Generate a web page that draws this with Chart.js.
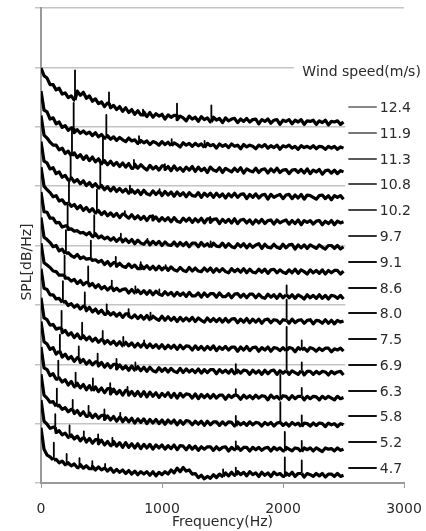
<!DOCTYPE html>
<html lang="ja">
<head>
<meta charset="UTF-8">
<title>SPL spectra</title>
<script src="https://cdn.jsdelivr.net/npm/chart.js"></script>
<style>
  body { margin: 0; background: #fff; }
  #box { width: 426px; height: 531px; }
</style>
</head>
<body>
<div id="box"><canvas id="grafico" width="426" height="531"></canvas></div>
<script>
// frequency grid (Hz)
const freq = [
  0,25,50,75,100,125,150,175,200,225,
  250,275,300,325,350,375,400,425,450,475,
  500,525,550,575,600,625,650,675,700,725,
  750,775,800,825,850,875,900,925,950,975,
  1000,1025,1050,1075,1100,1125,1150,1175,1200,1225,
  1250,1275,1300,1325,1350,1375,1400,1425,1450,1475,
  1500,1525,1550,1575,1600,1625,1650,1675,1700,1725,
  1750,1775,1800,1825,1850,1875,1900,1925,1950,1975,
  2000,2025,2050,2075,2100,2125,2150,2175,2200,2225,
  2250,2275,2300,2325,2350,2375,2400,2425,2450,2475,
  2500
]

const windSpeeds = ['12.4','11.9','11.3','10.8','10.2','9.7','9.1','8.6','8.0','7.5','6.9','6.3','5.8','5.2','4.7']

// waterfall offset of each spectrum (level at 2500 Hz)
const offsets = [60.6,56.4,52.4,48.1,43.8,39.7,35.5,31.3,27.1,22.4,18.5,14.3,9.8,5.6,1.3]

// spectra, relative to their offset
const spl124 = [9.3,8.0,7.6,6.5,6.5,5.6,5.9,4.9,5.1,4.3,4.6,
  3.9,5.4,4.7,5.2,4.2,4.6,3.7,4.1,3.3,3.6,
  2.8,3.4,2.6,3.0,2.3,2.8,2.0,2.6,1.8,2.3,
  1.5,2.1,1.4,1.9,1.1,1.8,1.0,1.6,1.2,1.5,
  0.7,1.4,1.0,1.3,0.6,1.2,0.9,0.4,1.2,0.7,
  1.0,0.3,1.1,0.6,0.9,0.2,1.0,0.5,0.8,0.1,
  0.9,0.4,0.7,0.8,0.1,0.7,0.3,0.8,0.2,0.6,
  0.7,-0.1,0.6,0.3,0.7,0.0,0.5,0.6,-0.2,0.5,
  0.3,0.6,-0.1,0.5,0.2,0.6,-0.2,0.4,0.3,0.5,
  -0.2,0.4,0.1,0.5,-0.3,0.3,0.2,0.4,-0.2,0.2]
const spl119 = [9.6,6.4,6.1,4.9,5.1,4.1,4.4,3.5,3.8,3.0,3.4,
  2.6,3.1,2.5,2.9,2.4,2.7,2.1,2.6,1.9,2.3,
  1.7,2.1,1.5,1.9,1.3,1.8,1.4,1.1,1.7,1.2,
  1.4,0.8,1.3,0.9,1.2,0.6,1.1,0.9,0.5,1.1,
  0.6,1.0,0.4,0.9,0.6,0.2,0.9,0.5,0.8,0.3,
  0.8,0.4,0.7,0.1,0.8,0.4,0.6,0.0,0.7,0.3,
  0.6,0.1,0.7,0.3,0.5,-0.1,0.6,0.2,0.5,0.3,
  -0.1,0.5,0.2,0.6,0.0,0.4,0.1,0.5,-0.2,0.4,
  0.2,0.5,0.0,0.3,-0.2,0.4,0.1,0.3,0.0,0.4,
  -0.1,0.3,0.2,-0.2,0.3,0.0,0.3,-0.2,0.2,0.0]
const spl113 = [9.5,6.2,5.7,5.0,4.5,4.5,3.7,4.0,3.1,3.5,2.7,
  3.2,2.4,2.9,2.1,2.7,1.9,2.5,1.7,2.2,1.4,
  1.9,1.2,1.8,1.1,1.6,0.9,1.5,0.8,1.4,0.6,
  1.3,0.6,1.2,0.7,0.3,1.1,0.5,0.9,0.3,1.0,
  0.4,0.9,0.2,1.0,0.3,0.7,0.1,0.8,0.3,0.9,
  0.1,0.8,0.2,0.6,-0.1,0.8,0.3,0.1,0.7,-0.1,
  0.6,0.3,0.0,0.6,0.1,0.7,-0.2,0.5,0.2,0.0,
  0.6,-0.1,0.4,0.5,-0.2,0.5,0.0,0.6,-0.1,0.3,
  0.4,-0.3,0.3,0.4,-0.1,0.4,-0.2,0.5,-0.3,0.3,
  0.0,0.4,-0.4,0.2,0.3,-0.2,0.3,-0.3,0.2,0.0]
const spl108 = [9.4,6.1,5.8,4.8,5.0,4.0,4.3,3.4,3.7,2.9,3.3,
  2.6,3.0,2.3,2.8,2.0,2.5,1.8,2.3,1.6,2.0,
  1.3,1.8,1.1,1.7,1.0,1.5,0.9,1.4,0.7,1.3,
  0.7,1.2,0.5,1.2,0.6,0.4,1.1,0.5,1.0,0.3,
  1.0,0.4,0.9,0.2,0.9,0.3,0.8,0.1,0.8,0.3,
  0.2,0.8,0.0,0.7,0.2,0.7,0.0,0.7,0.1,0.6,
  -0.1,0.6,0.1,0.7,0.0,0.5,0.6,-0.2,0.5,0.0,
  0.6,-0.1,0.4,0.5,-0.3,0.5,0.0,0.3,0.5,-0.2,
  0.4,0.5,-0.2,0.4,-0.1,0.5,-0.3,0.4,0.3,0.0,
  -0.3,0.3,0.4,-0.2,0.3,-0.4,0.3,0.0,0.3,-0.3]
const spl102 = [9.4,6.2,5.6,5.1,4.4,4.6,3.7,3.9,3.2,3.3,2.8,
  3.1,2.4,2.9,2.1,2.6,1.9,2.4,1.7,2.1,1.4,
  1.9,1.2,1.7,1.1,1.6,0.9,1.5,1.2,0.8,1.4,
  0.7,1.2,0.6,1.1,0.4,1.1,0.5,1.0,0.3,0.9,
  0.4,0.9,0.2,0.9,0.3,0.1,0.8,0.3,0.8,0.1,
  0.7,0.2,0.8,0.0,0.7,0.1,0.6,0.7,-0.1,0.6,
  0.1,0.6,0.0,0.7,-0.1,0.5,0.6,0.0,0.5,-0.2,
  0.5,0.0,0.6,-0.1,0.4,0.5,-0.2,0.5,0.0,0.3,
  0.5,-0.2,0.4,-0.1,0.5,-0.3,0.4,0.1,0.4,-0.2,
  0.3,0.4,-0.3,0.3,-0.1,0.4,-0.3,0.3,0.0,0.2]
const spl097 = [9.3,6.0,5.9,4.9,4.9,4.1,4.2,3.4,3.6,3.0,3.1,
  2.7,2.8,2.4,2.5,2.1,2.5,1.8,2.3,1.6,1.9,
  1.4,1.7,1.2,1.6,1.0,1.5,0.9,1.4,0.8,1.3,
  0.6,1.2,0.7,0.5,1.1,0.4,1.0,0.5,1.0,0.3,
  0.9,0.4,0.3,0.9,0.2,0.8,0.3,0.8,0.1,0.7,
  0.7,0.1,0.8,0.2,0.6,0.0,0.7,0.2,0.1,0.7,
  0.0,0.6,0.1,-0.1,0.6,0.1,0.6,-0.1,0.5,0.0,
  0.4,0.6,-0.2,0.5,0.0,-0.1,0.5,0.0,-0.2,0.5,
  -0.1,0.4,0.5,-0.3,0.4,-0.1,0.4,-0.2,0.4,0.1,
  -0.2,0.4,0.0,-0.3,0.3,0.3,-0.2,0.3,-0.3,0.1]
const spl091 = [9.2,5.9,5.5,5.0,4.3,4.5,3.6,3.9,3.1,3.3,2.8,
  2.5,3.0,2.3,2.6,2.2,2.3,2.0,2.1,1.7,2.0,
  1.3,1.8,1.1,1.6,1.0,1.5,1.0,0.8,1.4,0.8,
  1.2,0.6,1.2,0.6,1.1,0.5,1.0,0.4,1.0,0.4,
  0.9,0.3,0.9,0.4,0.2,0.8,0.3,0.1,0.8,0.2,
  0.7,0.2,0.1,0.7,0.2,0.7,0.0,0.6,0.1,0.6,
  0.1,-0.1,0.6,0.1,0.5,0.0,0.6,-0.1,0.5,0.0,
  -0.1,0.5,0.0,0.5,-0.2,0.4,0.5,-0.1,0.4,0.0,
  -0.2,0.4,-0.1,0.5,-0.2,0.4,0.1,-0.3,0.4,-0.1,
  0.3,-0.2,0.4,-0.3,0.3,-0.1,0.3,0.3,-0.3,0.2]
const spl086 = [9.1,5.8,5.4,5.0,4.4,4.3,3.7,3.7,3.2,3.2,2.7,
  3.0,2.3,2.8,2.1,2.5,1.9,2.3,1.6,2.1,1.4,
  1.8,1.2,1.7,1.1,1.5,1.0,1.3,1.4,0.7,1.3,
  0.7,1.2,0.6,1.1,0.5,1.1,0.4,1.0,0.5,0.3,
  0.9,0.4,0.8,0.2,0.8,0.3,0.7,0.1,0.8,0.2,
  0.2,0.7,0.0,0.7,0.1,0.6,0.6,0.0,0.7,0.1,
  0.1,0.6,-0.1,0.5,0.6,0.0,0.5,-0.1,0.5,0.5,
  -0.1,0.5,0.0,-0.2,0.5,0.0,0.4,-0.2,0.5,-0.1,
  0.4,-0.1,0.4,-0.2,0.4,0.1,-0.3,0.4,-0.1,0.3,
  -0.2,0.4,-0.2,0.3,-0.3,0.3,0.2,-0.2,0.3,-0.3]
const spl080 = [9.0,5.7,5.5,4.6,4.6,3.9,4.0,3.3,3.5,2.8,3.1,
  2.5,2.9,2.2,2.7,1.9,2.5,1.7,2.2,1.5,2.0,
  1.3,1.8,1.2,1.6,1.0,1.5,0.8,1.4,1.0,0.7,
  1.2,0.6,1.1,0.5,1.1,0.4,1.0,0.6,0.3,1.0,
  0.3,0.9,0.3,0.8,0.1,0.8,0.2,0.7,0.2,0.8,
  0.1,0.7,0.3,0.0,0.7,0.1,0.6,0.1,0.6,0.0,
  0.6,0.0,0.5,0.6,-0.1,0.5,0.0,0.6,-0.1,0.5,
  0.0,0.5,-0.2,0.4,0.5,-0.1,0.4,0.3,-0.2,0.4,
  0.3,-0.2,0.5,-0.1,0.3,0.4,-0.2,0.3,0.4,-0.3,
  0.3,0.2,-0.2,0.4,-0.2,0.3,-0.3,0.3,0.0,0.2]
const spl075 = [8.8,5.4,5.1,4.2,4.3,3.5,3.7,2.9,3.3,2.5,2.9,
  2.1,2.7,1.9,2.4,1.7,2.2,1.5,2.0,1.3,1.8,
  1.1,1.6,1.0,1.5,0.8,1.4,0.7,1.3,0.7,1.2,
  0.5,1.1,0.5,1.1,0.4,1.0,0.4,0.9,0.3,0.9,
  0.2,0.8,0.3,0.8,0.1,0.8,0.2,0.7,0.6,0.0,
  0.7,0.1,0.6,0.0,0.6,0.1,0.7,-0.1,0.5,0.1,
  0.6,0.0,0.5,0.5,-0.2,0.5,0.0,0.6,-0.1,0.4,
  0.5,-0.2,0.4,0.0,0.5,-0.2,0.4,0.3,-0.1,0.4,
  -0.1,0.4,0.3,-0.3,0.4,0.0,0.3,-0.2,0.4,0.2,
  -0.2,0.3,-0.1,0.3,0.3,-0.3,0.2,0.0,0.3,-0.2]
const spl069 = [8.7,5.3,4.9,4.0,4.3,3.2,3.7,2.7,3.2,2.4,2.8,
  2.0,2.6,1.8,2.3,1.5,2.1,1.4,1.9,1.2,1.8,
  1.0,1.6,0.9,1.5,0.7,1.4,0.7,1.2,0.5,1.2,
  0.5,1.1,0.4,1.0,0.3,1.0,0.4,0.2,0.9,0.3,
  0.8,0.2,0.8,0.3,0.1,0.8,0.1,0.7,0.2,0.6,
  0.1,0.7,0.0,0.6,0.1,0.6,0.6,-0.1,0.6,0.1,
  0.5,0.0,0.6,-0.1,0.5,0.0,0.5,0.4,-0.2,0.5,
  0.0,0.4,-0.2,0.5,-0.1,0.4,0.5,-0.2,0.4,0.0,
  0.4,-0.2,0.4,0.1,-0.2,0.4,-0.3,0.3,0.3,-0.2,
  0.3,-0.1,0.3,0.2,-0.3,0.3,-0.1,0.2,0.3,-0.3]
const spl063 = [8.6,5.1,4.8,3.8,4.1,3.2,3.4,2.7,3.1,2.2,2.8,
  1.9,2.5,1.7,2.3,1.4,2.1,1.2,1.9,1.1,1.7,
  0.9,1.6,0.7,1.5,0.7,1.3,0.5,1.3,0.5,1.1,
  0.4,1.1,0.3,1.1,0.2,1.0,0.3,0.9,0.1,0.8,
  0.3,0.9,0.1,0.8,0.0,0.8,0.2,0.7,0.6,0.0,
  0.7,-0.1,0.6,0.1,0.6,0.0,0.6,0.0,0.5,0.5,
  -0.2,0.5,0.1,0.5,0.4,-0.2,0.5,0.0,0.4,-0.1,
  0.5,0.0,0.4,0.3,-0.3,0.5,0.0,0.3,-0.2,0.4,
  0.3,-0.2,0.4,-0.1,0.3,0.3,-0.3,0.3,-0.1,0.3,
  0.2,-0.3,0.3,-0.1,0.3,0.0,-0.3,0.3,-0.1,0.1]
const spl058 = [8.5,5.0,4.5,3.8,3.9,3.1,3.3,2.6,2.9,2.2,2.6,
  1.9,2.4,1.6,2.2,1.4,2.0,1.2,1.8,1.1,1.6,
  0.9,1.5,0.8,1.4,0.6,1.3,0.5,1.2,0.5,1.1,
  0.3,1.0,0.4,1.0,0.2,0.9,0.3,0.9,0.2,0.8,
  0.1,0.8,0.3,0.8,0.0,0.7,0.1,0.7,0.6,0.0,
  0.6,0.1,0.6,-0.1,0.6,0.0,0.5,0.5,-0.1,0.5,
  0.0,0.5,0.4,-0.2,0.5,0.0,0.4,-0.1,0.5,0.0,
  0.4,0.3,-0.2,0.4,0.0,0.4,-0.2,0.3,0.4,-0.1,
  0.3,-0.2,0.4,0.0,0.3,-0.3,0.3,0.2,-0.2,0.3,
  -0.1,0.3,0.2,-0.3,0.3,0.0,0.2,-0.3,0.2,0.0]
const spl052 = [8.4,4.8,4.3,3.6,3.8,2.9,3.2,2.5,2.8,2.1,2.5,
  1.8,2.3,1.5,2.1,1.3,1.9,1.1,1.7,1.0,1.6,
  0.8,1.4,0.7,1.4,0.6,1.2,0.4,1.2,0.4,1.0,
  0.3,1.0,0.2,0.9,0.3,0.9,0.1,0.8,0.3,0.8,
  0.1,0.7,0.2,0.8,0.0,0.7,0.6,0.0,0.7,0.1,
  0.6,-0.1,0.5,0.1,0.5,0.5,-0.1,0.5,0.0,0.4,
  0.5,-0.2,0.4,0.0,0.5,-0.1,0.4,0.4,-0.2,0.4,
  0.0,0.4,-0.1,0.3,0.4,-0.2,0.4,0.0,0.3,-0.2,
  0.4,0.1,-0.2,0.3,0.2,-0.3,0.3,0.0,0.3,-0.2,
  0.3,0.0,-0.3,0.3,0.1,0.2,-0.2,0.3,-0.1,0.1]
const spl047 = [8.0,4.4,3.4,3.1,2.6,2.7,2.1,2.4,1.8,2.1,1.6,
  1.9,1.3,1.8,1.2,1.6,1.1,1.5,0.9,1.4,0.9,
  1.2,0.7,1.2,0.5,1.0,0.5,0.9,0.3,0.8,0.2,
  0.7,0.1,0.6,0.2,0.6,0.0,0.6,-0.1,0.5,0.1,
  0.6,0.2,0.9,0.4,1.2,0.6,1.3,0.7,0.9,0.2,
  0.3,-0.4,0.0,-0.6,-0.2,-0.5,0.1,-0.4,0.2,-0.2,
  0.4,-0.1,0.5,0.0,0.6,0.1,0.5,-0.1,0.6,0.1,
  0.4,-0.2,0.5,0.0,0.4,-0.2,0.5,0.1,0.3,-0.2,
  0.4,0.0,0.5,-0.2,0.3,0.3,-0.3,0.3,0.1,-0.2,
  0.3,-0.1,0.3,-0.3,0.2,0.2,-0.2,0.3,-0.2,0.0]

// narrow tonal peaks: [frequency Hz, top level relative to offset]
const peaks124 = [[281,8.9],[562,5.2],[843,2.3],[1124,3.3],[1408,3.0]]
const peaks119 = [[270,7.6],[540,5.6],[810,2.0],[1080,1.5],[1352,1.2]]
const peaks113 = [[256,7.2],[512,5.9],[768,2.0],[1024,1.3]]
const peaks108 = [[245,7.3],[490,6.3],[735,2.0],[980,1.4]]
const peaks102 = [[231,7.2],[462,5.6],[693,2.0],[924,1.3],[1398,1.0]]
const peaks097 = [[220,7.2],[440,5.4],[660,2.3],[880,1.4],[1402,1.0]]
const peaks091 = [[206,7.1],[412,5.3],[618,2.6],[824,1.7],[1030,1.2]]
const peaks086 = [[195,7.0],[390,5.2],[585,2.8],[780,1.8],[978,1.3],[2030,2.0]]
const peaks080 = [[181,6.9],[362,5.0],[543,3.0],[724,2.2],[905,1.6],[2030,3.8]]
const peaks075 = [[170,6.6],[340,4.6],[510,3.2],[680,2.2],[852,1.6],[2030,3.9],[2155,1.6]]
const peaks069 = [[156,6.5],[312,4.5],[468,3.3],[624,2.4],[780,1.8],[1610,1.5],[2030,3.8],[2155,1.8]]
const peaks063 = [[143,6.3],[286,4.3],[429,3.3],[572,2.5],[715,1.9],[1610,1.5],[1978,4.0],[2155,1.7]]
const peaks058 = [[131,6.1],[262,4.2],[393,3.2],[524,2.6],[655,2.0],[1610,1.5],[1978,3.8],[2155,1.6]]
const peaks052 = [[118,6.0],[236,4.1],[354,3.1],[472,2.6],[590,2.0],[1610,1.4],[2015,3.0],[2155,1.5]]
const peaks047 = [[106,5.5],[212,3.6],[318,2.9],[424,2.4],[530,1.9],[1505,1.0],[1610,1.3],[2015,3.0],[2155,2.5]]

const levels = [spl124,spl119,spl113,spl108,spl102,spl097,spl091,spl086,spl080,spl075,spl069,spl063,spl058,spl052,spl047]
const peaks = [peaks124,peaks119,peaks113,peaks108,peaks102,peaks097,peaks091,peaks086,peaks080,peaks075,peaks069,peaks063,peaks058,peaks052,peaks047]

levels.forEach((l, i) => { if (l.length !== freq.length) throw new Error('series ' + windSpeeds[i] + ' has ' + l.length) })

const legendColors = ['#888','#777','#5a5a5a','#4a4a4a','#444','#333','#111','#111','#111','#111','#111','#111','#111','#111','#111']

const datasets = levels.map((lv, i) => {
  const pts = freq.map((f, k) => ({x: f, y: offsets[i] + lv[k]}))
  // each peak is a vertical line rising from the level of the grid point just below it
  peaks[i].forEach(p => {
    let k = 0
    while (k + 1 < freq.length && freq[k + 1] <= p[0]) k++
    const base = offsets[i] + lv[k]
    pts.push({x: p[0], y: base}, {x: p[0], y: offsets[i] + p[1]}, {x: p[0], y: base})
  })
  pts.sort((a, b) => a.x - b.x)
  return {
    label: windSpeeds[i],
    data: pts,
    borderColor: '#000',
    borderWidth: 3.2,
    borderJoinStyle: 'round',
    pointRadius: 0,
    tension: 0,
    segment: {
      // the tonal peaks are thinner than the noisy band
      borderWidth: s => s.p0.parsed.x === s.p1.parsed.x ? 1.8 : undefined
    }
  }
})

const fonte = 'DejaVu Sans'
const corTexto = '#2a2a2a'

// text boxes on the right and the rotated y title
const rotulos = {
  id: 'rotulos',
  afterDraw(chart) {
    const c = chart.ctx
    const sx = chart.scales.x, sy = chart.scales.y
    c.save()
    c.fillStyle = '#fff'
    c.fillRect(sx.getPixelForValue(2090), sy.getPixelForValue(71.3), 200, 24)
    c.fillRect(sx.getPixelForValue(2515), sy.getPixelForValue(65.3), 100, 385)
    c.font = '14px "' + fonte + '"'
    c.fillStyle = corTexto
    c.textBaseline = 'middle'
    c.textAlign = 'left'
    c.fillText('Wind speed(m/s)', sx.getPixelForValue(2160), sy.getPixelForValue(69.2))
    windSpeeds.forEach((w, i) => {
      const yy = Math.round(sy.getPixelForValue(63.3 - 4.34 * i))
      c.strokeStyle = legendColors[i]
      c.lineWidth = 2
      c.beginPath()
      c.moveTo(sx.getPixelForValue(2540), yy)
      c.lineTo(sx.getPixelForValue(2775), yy)
      c.stroke()
      c.fillText(w, sx.getPixelForValue(2800), yy + 1)
    })
    c.translate(27, 262)
    c.rotate(-Math.PI / 2)
    c.textAlign = 'center'
    c.fillText('SPL[dB/Hz]', 0, 0)
    c.restore()
  }
}

const ctx = document.getElementById('grafico')
let grafico = new Chart(ctx, {
  type: 'line',
  data: { datasets: datasets },
  plugins: [rotulos],
  options: {
    responsive: false,
    animation: false,
    layout: { padding: { top: 8, right: 22, left: 0, bottom: 0 } },
    plugins: { legend: { display: false }, tooltip: { enabled: false } },
    scales: {
      x: {
        type: 'linear',
        min: 0, max: 3000,
        afterFit: s => { s.height = 48; s.paddingLeft = 5; s.paddingRight = 18 },
        ticks: { stepSize: 1000, color: corTexto, font: { family: fonte, size: 14 }, padding: 13, maxRotation: 0, callback: v => String(v) },
        grid: { drawOnChartArea: false, drawTicks: true, tickLength: 5, color: '#999' },
        border: { color: '#9a9a9a', width: 2 },
        title: { display: true, text: 'Frequency(Hz)', color: corTexto, font: { family: fonte, size: 14 }, padding: { top: 0, bottom: 0 } }
      },
      y: {
        min: 0, max: 80,
        afterFit: s => { s.width = 41 },
        ticks: { stepSize: 10, display: false },
        grid: { color: '#c4c4c4', lineWidth: 1.5, drawTicks: true, tickLength: 6 },
        border: { color: '#9a9a9a', width: 2 }
      }
    }
  }
})
</script>
</body>
</html>
